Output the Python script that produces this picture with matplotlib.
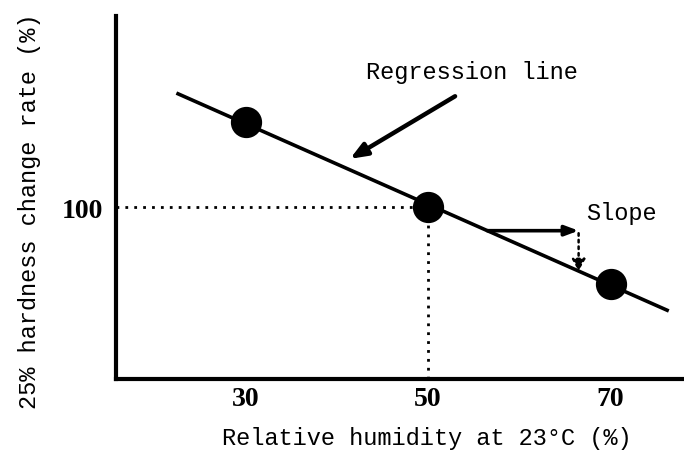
import numpy as np
import matplotlib
matplotlib.use("Agg")
import matplotlib.pyplot as plt

# data
humidity = [30, 50, 70]
hardness_rate = [110, 100, 91]
x_ticks = [30, 50, 70]
y_ticks = [100]

# regression line through the three points
coef = np.polyfit(humidity, hardness_rate, 1)
line_x = np.array([22.6, 76.2])
line_y = np.polyval(coef, line_x)

fig = plt.figure(figsize=(6.84, 4.56), dpi=100)
ax = fig.add_axes([0.1696, 0.1667, 0.8304, 0.796])

ax.plot(line_x, line_y, color="black", lw=2.6, zorder=2)
ax.plot(humidity, hardness_rate, "o", color="black", markersize=21.5, zorder=3)

# dotted guides to the 50 % point
ax.plot([15.8, humidity[1]], [hardness_rate[1]] * 2, color="black",
        ls=(0, (1, 2.2)), lw=2)
ax.plot([humidity[1]] * 2, [79.8, hardness_rate[1]], color="black",
        ls=(0, (1, 2.2)), lw=2)

ax.set_xlim(15.8, 78.05)
ax.set_ylim(79.8, 122.5)

ax.spines["top"].set_visible(False)
ax.spines["right"].set_visible(False)
ax.spines["left"].set_linewidth(3)
ax.spines["bottom"].set_linewidth(3)

ax.set_xticks(x_ticks)
ax.set_yticks(y_ticks)
ax.tick_params(length=0)
ax.tick_params(axis="x", pad=5)
ax.tick_params(axis="y", pad=9)
for lab in ax.get_xticklabels() + ax.get_yticklabels():
    lab.set_fontfamily("Liberation Serif")
    lab.set_fontsize(20)
    lab.set_fontweight("bold")

mono = "Liberation Mono"
ax.set_xlabel("Relative humidity at 23°C (%)", fontfamily=mono, fontsize=17)
ax.xaxis.set_label_coords(0.548, -0.13)
ax.set_ylabel("25% hardness change rate (%)", fontfamily=mono, fontsize=17)
ax.yaxis.set_label_coords(-0.132, 0.466)

# regression line callout
ax.text(54.8, 116.0, "Regression line", fontfamily=mono, fontsize=17,
        ha="center", va="center")
x_tip = 41.45
ax.annotate("", xy=(x_tip, np.polyval(coef, x_tip) + 1.3), xytext=(52.96, 113.06),
            arrowprops=dict(arrowstyle="-|>,head_length=1.0,head_width=0.4",
                            color="black", lw=3.2, shrinkA=0, shrinkB=0))

# slope marker
x0, x1 = 56.5, 66.5
y0 = np.polyval(coef, x0)
y1 = np.polyval(coef, x1)
ax.annotate("", xy=(x1, y0), xytext=(x0, y0),
            arrowprops=dict(arrowstyle="-|>,head_length=0.8,head_width=0.3",
                            color="black", lw=2.6, shrinkA=0, shrinkB=0))
ax.annotate("", xy=(x1, y1), xytext=(x1, y0 - 0.3),
            arrowprops=dict(arrowstyle="-|>,head_length=0.7,head_width=0.4",
                            color="black", lw=1.8, ls=":", shrinkA=0, shrinkB=0))
ax.text(67.3, 99.4, "Slope", fontfamily=mono, fontsize=17, ha="left", va="center")

fig.savefig("out.png", dpi=100)
